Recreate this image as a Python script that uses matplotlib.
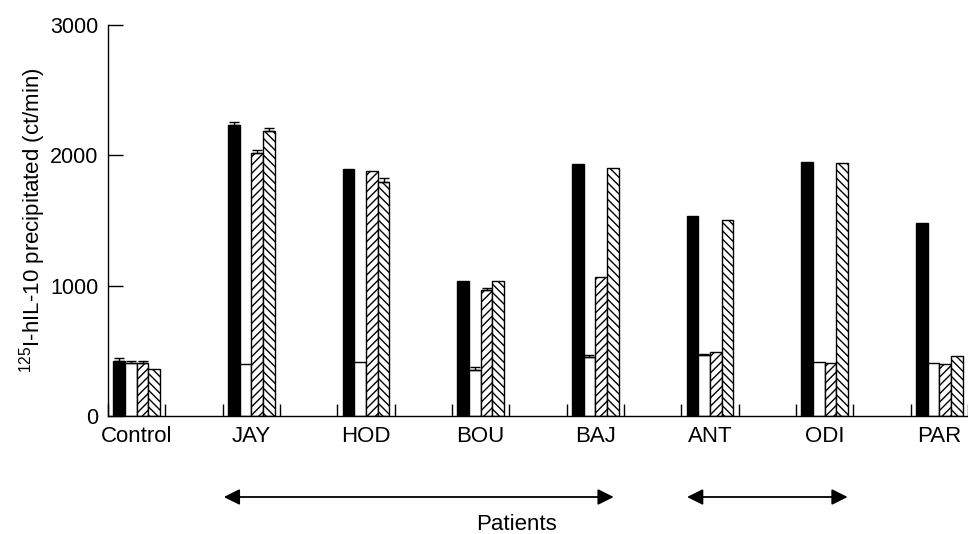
import numpy as np
import matplotlib
matplotlib.use('Agg')
import matplotlib.pyplot as plt

plt.rcParams['font.family'] = ['Liberation Sans', 'DejaVu Sans']
plt.rcParams['mathtext.fontset'] = 'custom'
plt.rcParams['mathtext.rm'] = 'Liberation Sans'
plt.rcParams['hatch.linewidth'] = 1.0

# data
groups = ['Control', 'JAY', 'HOD', 'BOU', 'BAJ', 'ANT', 'ODI', 'PAR']
black = [420, 2233, 1893, 1038, 1934, 1535, 1949, 1484]
white = [405, 399, 414, 353, 455, 468, 412, 409]
hatch_a = [410, 2021, 1880, 967, 1069, 494, 404, 400]
hatch_b = [360, 2187, 1796, 1036, 1900, 1504, 1945, 463]
err_black = [25, 20, 0, 0, 0, 0, 0, 0]
err_white = [15, 0, 0, 25, 10, 10, 0, 0]
err_a = [15, 20, 0, 12, 0, 0, 0, 0]
err_b = [0, 25, 30, 0, 0, 0, 0, 0]

fig = plt.figure(figsize=(9.68, 5.34), dpi=100)
ax = fig.add_axes([108/968, 1-416/534, 1-108/968, (416-25)/534])

x = np.arange(len(groups))
w = 0.102
series = [
    (black, err_black, dict(color='black', edgecolor='black')),
    (white, err_white, dict(color='white', edgecolor='black')),
    (hatch_a, err_a, dict(color='white', edgecolor='black', hatch='////')),
    (hatch_b, err_b, dict(color='white', edgecolor='black', hatch='\\\\\\\\')),
]
for k, (vals, errs, style) in enumerate(series):
    pos = x + (k - 1.5) * w
    ax.bar(pos, vals, width=w, linewidth=1.0, **style)
    errs = np.array(errs)
    m = errs > 0
    vals = np.array(vals)
    ax.errorbar(pos[m], vals[m], yerr=[np.zeros(m.sum()), errs[m]],
                fmt='none', ecolor='black', elinewidth=1.0, capsize=3.5, capthick=1.0)

ax.set_xlim(-0.245, 6.98)
ax.set_ylim(0, 3000)
ax.set_yticks([0, 1000, 2000, 3000])
ax.set_xticks(x)
ax.set_xticklabels(groups, fontsize=16)
ax.set_xticks(np.concatenate([x - 0.25, x + 0.25]), minor=True)
ax.tick_params(axis='x', which='major', length=0, pad=7)
ax.tick_params(axis='x', which='minor', direction='in', length=9, width=1.0)
ax.tick_params(axis='y', direction='in', length=11, width=1.0, labelsize=15.5, pad=7)
ax.spines['top'].set_visible(False)
ax.spines['right'].set_visible(False)
ax.spines['left'].set_linewidth(1.0)
ax.spines['bottom'].set_linewidth(1.0)
ax.set_ylabel(r'$^{125}$I-hIL-10 precipitated (ct/min)', fontsize=16)
ax.yaxis.set_label_coords(-0.070, 0.5)

# patient arrows below the axis
ytop = 1 - 497/534
for x0, x1 in [(0.76, 4.16), (4.80, 6.20)]:
    ax.annotate('', xy=(x1, ytop), xytext=(x0, ytop), xycoords=('data', 'figure fraction'),
                textcoords=('data', 'figure fraction'),
                arrowprops=dict(arrowstyle='<|-|>', color='black', lw=1.3, mutation_scale=24,
                                shrinkA=0, shrinkB=0))
fig.text(516/968, 1 - 524/534, 'Patients', ha='center', va='center', fontsize=16)

fig.savefig('out.png', dpi=100)
